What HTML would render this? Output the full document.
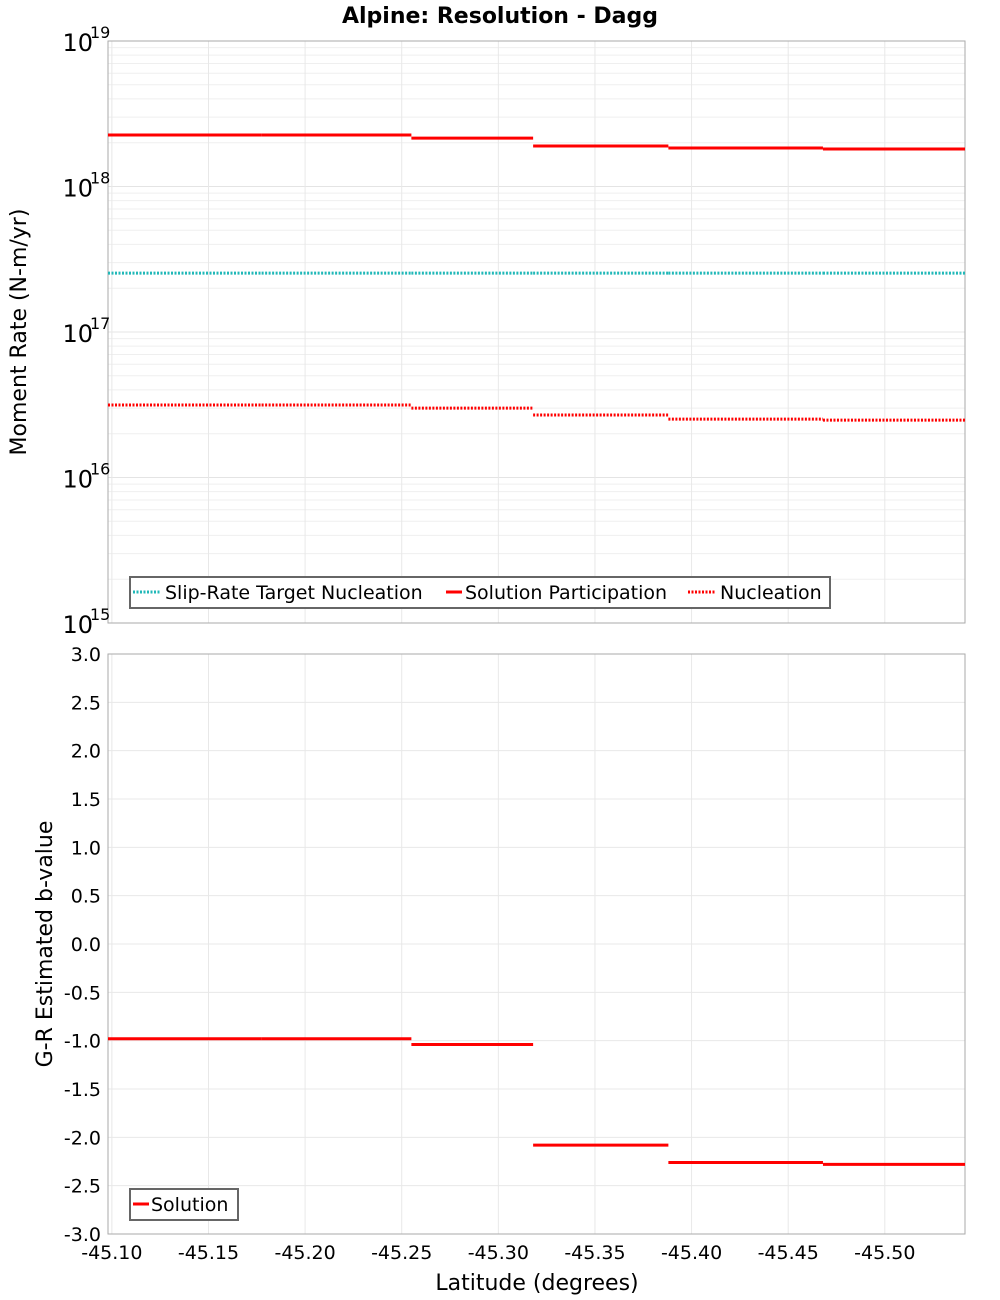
<!DOCTYPE html>
<html><head><meta charset="utf-8"><style>
body{margin:0;background:#fff;}
svg{display:block;font-family:"DejaVu Sans","Liberation Sans",sans-serif;}
</style></head><body>
<svg id="chart" width="1000" height="1300" xmlns="http://www.w3.org/2000/svg">
<rect width="1000" height="1300" fill="#fff"/>
<text x="500" y="23" text-anchor="middle" font-size="22" font-weight="bold">Alpine: Resolution - Dagg</text>
<g id="topPanel"></g>
<g id="botPanel"></g>
</svg>
<script>
// ---- data ----
const segBounds = [-45.098, -45.1775, -45.255, -45.318, -45.388, -45.468, -45.5415];
const participation = [2.26e18, 2.26e18, 2.15e18, 1.90e18, 1.84e18, 1.81e18];
const targetNucleation = [2.54e17, 2.54e17, 2.54e17, 2.54e17, 2.54e17, 2.54e17];
const nucleation = [3.15e16, 3.15e16, 3.0e16, 2.69e16, 2.52e16, 2.48e16];
const bValues = [-0.98, -0.98, -1.04, -2.08, -2.26, -2.28];
const xTicks = [-45.10, -45.15, -45.20, -45.25, -45.30, -45.35, -45.40, -45.45, -45.50];
const xTickLabels = ["-45.10","-45.15","-45.20","-45.25","-45.30","-45.35","-45.40","-45.45","-45.50"];
const logDecades = [15, 16, 17, 18, 19];
const bTicks = [-3, -2.5, -2, -1.5, -1, -0.5, 0, 0.5, 1, 1.5, 2, 2.5, 3];

const NS = "http://www.w3.org/2000/svg";
const L = 108, R = 965;
const T1 = 41, B1 = 623, T2 = 654, B2 = 1234;
const xMin = -45.098, xMax = -45.5415;
function xs(v){ return L + (v - xMin) / (xMax - xMin) * (R - L); }
function ys1(v){ return B1 - (Math.log10(v) - 15) / 4 * (B1 - T1); }
function ys2(v){ return B2 - (v + 3) / 6 * (B2 - T2); }
function mk(tag, attrs, parent, text){
  const e = document.createElementNS(NS, tag);
  for (const k in attrs) e.setAttribute(k, attrs[k]);
  if (text !== undefined) e.textContent = text;
  parent.appendChild(e); return e;
}
const topG = document.getElementById('topPanel'), botG = document.getElementById('botPanel');

// ---- grids ----
let g = mk('g', {}, topG);


for (let d = 15; d < 19; d++) for (let m = 1; m < 10; m++) {
  const y = ys1(m * Math.pow(10, d));
  mk('line', {x1:L, x2:R, y1:y, y2:y, stroke: m===1 ? '#e4e4e4' : '#efefef', 'stroke-width':1}, g);
}
xTicks.forEach(t => { const x = xs(t); mk('line', {x1:x, x2:x, y1:T1, y2:B1, stroke:'#e8e8e8'}, g);
  mk('line', {x1:x, x2:x, y1:T2, y2:B2, stroke:'#e8e8e8'}, g); });
for (let i = 0; i < 13; i++) { const y = ys2(bTicks[i]); mk('line', {x1:L, x2:R, y1:y, y2:y, stroke:'#e8e8e8'}, g); }

let f1 = mk('rect', {x:L, y:T1, width:R-L, height:B1-T1, fill:'none', stroke:'#aaa'}, topG);


let f2 = mk('rect', {x:L, y:T2, width:R-L, height:B2-T2, fill:'none', stroke:'#aaa'}, botG);



logDecades.forEach(d => {
  const y = ys1(Math.pow(10, d));
  const t = mk('text', {x:93, y:y+10, 'text-anchor':'end', 'font-size':24}, topG, '10');
  
  
  mk('text', {x:90, y:y-3, 'font-size':16}, topG, String(d));
});
let yt1 = mk('text', {x:26, y:332, 'text-anchor':'middle', 'font-size':22, transform:'rotate(-90 26 332)'}, topG, 'Moment Rate (N-m/yr)');



function steps(parent, vals, ysf, color, dash, name){
  const gg = mk('g', {}, parent);
  
  
  vals.forEach((v, i) => {
    const y = ysf(v);
    const a = {x1:xs(segBounds[i]), x2:xs(segBounds[i+1]), y1:y, y2:y, stroke:color, 'stroke-width':3};
    if (dash) a['stroke-dasharray'] = '2,1.5';
    const ln = mk('line', a, gg);
    
    
  });
}
steps(topG, targetNucleation, ys1, '#20b8b8', true, 'slip-rate-target-nucleation-series');
steps(topG, participation, ys1, '#ff0000', false, 'solution-participation-series');
steps(topG, nucleation, ys1, '#ff0000', true, 'nucleation-series');

// legend top
let lg = mk('g', {}, topG);


mk('rect', {x:130, y:577, width:700, height:31, fill:'#fff', stroke:'#666', 'stroke-width':2}, lg);
mk('line', {x1:133, x2:161, y1:592, y2:592, stroke:'#20b8b8', 'stroke-width':3, 'stroke-dasharray':'2,1.5'}, lg);
mk('text', {x:165, y:599, 'font-size':19}, lg, 'Slip-Rate Target Nucleation');
mk('line', {x1:446, x2:462, y1:592, y2:592, stroke:'#ff0000', 'stroke-width':3}, lg);
mk('text', {x:465, y:599, 'font-size':19}, lg, 'Solution Participation');
mk('line', {x1:688, x2:716, y1:592, y2:592, stroke:'#ff0000', 'stroke-width':3, 'stroke-dasharray':'2,1.5'}, lg);
mk('text', {x:720, y:599, 'font-size':19}, lg, 'Nucleation');

// ---- bottom panel ----
bTicks.forEach(t => {
  const y = ys2(t);
  const tx = mk('text', {x:101, y:y+7, 'text-anchor':'end', 'font-size':19}, botG, t.toFixed(1));
  
  
});
let yt2 = mk('text', {x:52, y:944, 'text-anchor':'middle', 'font-size':22, transform:'rotate(-90 52 944)'}, botG, 'G-R Estimated b-value');


steps(botG, bValues, ys2, '#ff0000', false, 'b-value-solution-series');

xTicks.forEach((t, i) => {
  const tx = mk('text', {x:xs(t), y:1259, 'text-anchor':'middle', 'font-size':19}, botG, xTickLabels[i]);
  
  
});
let xt = mk('text', {x:537, y:1290, 'text-anchor':'middle', 'font-size':22}, botG, 'Latitude (degrees)');



let lg2 = mk('g', {}, botG);


mk('rect', {x:130, y:1189, width:108, height:31, fill:'#fff', stroke:'#666', 'stroke-width':2}, lg2);
mk('line', {x1:133, x2:149, y1:1204, y2:1204, stroke:'#ff0000', 'stroke-width':3}, lg2);
mk('text', {x:151, y:1211, 'font-size':19}, lg2, 'Solution');
</script>
</body></html>
